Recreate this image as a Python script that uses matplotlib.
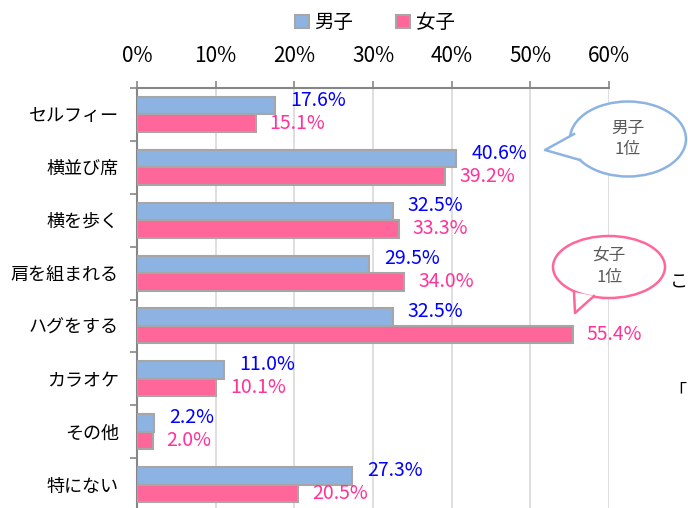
import matplotlib.pyplot as plt
from matplotlib.patches import Ellipse, Polygon
from matplotlib.transforms import IdentityTransform

plt.rcParams['font.family'] = ['Noto Sans CJK JP', 'DejaVu Sans']

categories = ['セルフィー', '横並び席', '横を歩く', '肩を組まれる', 'ハグをする', 'カラオケ', 'その他', '特にない']
male = [17.6, 40.6, 32.5, 29.5, 32.5, 11.0, 2.2, 27.3]
female = [15.1, 39.2, 33.3, 34.0, 55.4, 10.1, 2.0, 20.5]
ticks = [0, 10, 20, 30, 40, 50, 60]

W, H = 688, 508
fig = plt.figure(figsize=(W / 100, H / 100), dpi=100)
ax = fig.add_axes([137 / W, (H - 511) / H, 472 / W, (511 - 88) / H])

blue = '#8DB3E2'
pink = '#FF6699'
bh = 0.33
ys = range(len(categories))
ax.barh([y - bh / 2 for y in ys], male, height=bh, color=blue, edgecolor='#A6A6A6', linewidth=1.5, label='男子', zorder=3)
ax.barh([y + bh / 2 for y in ys], female, height=bh, color=pink, edgecolor='#A6A6A6', linewidth=1.5, label='女子', zorder=3)

for y, m, f in zip(ys, male, female):
    ax.annotate(f'{m:.1f}%', (m, y - bh / 2), xytext=(11, 4), textcoords='offset points',
                color='#0000FF', fontsize=14, va='center', ha='left')
    ax.annotate(f'{f:.1f}%', (f, y + bh / 2), xytext=(10, 0), textcoords='offset points',
                color='#FF3399', fontsize=14, va='center', ha='left')

ax.set_xlim(0, 60)
ax.set_ylim(len(categories) - 0.5, -0.5)
ax.set_xticks(ticks)
ax.set_xticklabels([f'{t}%' for t in ticks])
ax.set_yticks([y - 0.5 for y in ys], minor=False)
ax.set_yticklabels([])
ax.set_yticks(list(ys), minor=True)
ax.set_yticklabels(categories, minor=True)
ax.xaxis.tick_top()
ax.tick_params(axis='x', length=5, width=1.2, color='#868686', pad=10, labelsize=15)
ax.tick_params(axis='y', which='major', length=5, width=1.2, color='#868686')
ax.tick_params(axis='y', which='minor', length=0, pad=13, labelsize=13)
ax.grid(axis='x', color='#D9D9D9', linewidth=1.2, zorder=0)
for s in ['right', 'bottom']:
    ax.spines[s].set_visible(False)
for s in ['top', 'left']:
    ax.spines[s].set_color('#868686')
    ax.spines[s].set_linewidth(1.5)

fig.legend(loc='upper center', bbox_to_anchor=(0.545, 1.01), ncol=2, frameon=False,
           fontsize=14, handlelength=0.7, handleheight=0.7, handletextpad=0.3, columnspacing=2.2)


def bubble(cx, cy, w, h, tail, color, text):
    tr = IdentityTransform()
    ell = Ellipse((cx, H - cy), w, h, facecolor='white', edgecolor=color, linewidth=1.8, transform=tr, zorder=10)
    fig.patches.append(ell)
    a, tip, b = tail
    pts = [(a[0], H - a[1]), (tip[0], H - tip[1]), (b[0], H - b[1])]
    fig.patches.append(Polygon(pts, closed=True, facecolor='white', edgecolor='none', transform=tr, zorder=11))
    fig.lines.append(plt.Line2D([p[0] for p in pts], [p[1] for p in pts], color=color, linewidth=1.8,
                                transform=tr, zorder=12))
    fig.text(cx / W, 1 - cy / H, text, ha='center', va='center', color='#595959', fontsize=12,
             linespacing=1.3, zorder=13)


bubble(628, 139, 116, 75, [(574, 134), (545, 150), (580, 160)], '#8DB3E2', '男子\n1位')
bubble(609, 267, 112, 62, [(574, 292), (575, 313), (594, 296)], '#FF6699', '女子\n1位')

fig.text(670 / W, 1 - 283 / H, 'こ', ha='left', va='center', fontsize=13)
fig.text(668 / W, 1 - 391 / H, '「', ha='left', va='center', fontsize=13)

fig.savefig('out.png', dpi=100)
